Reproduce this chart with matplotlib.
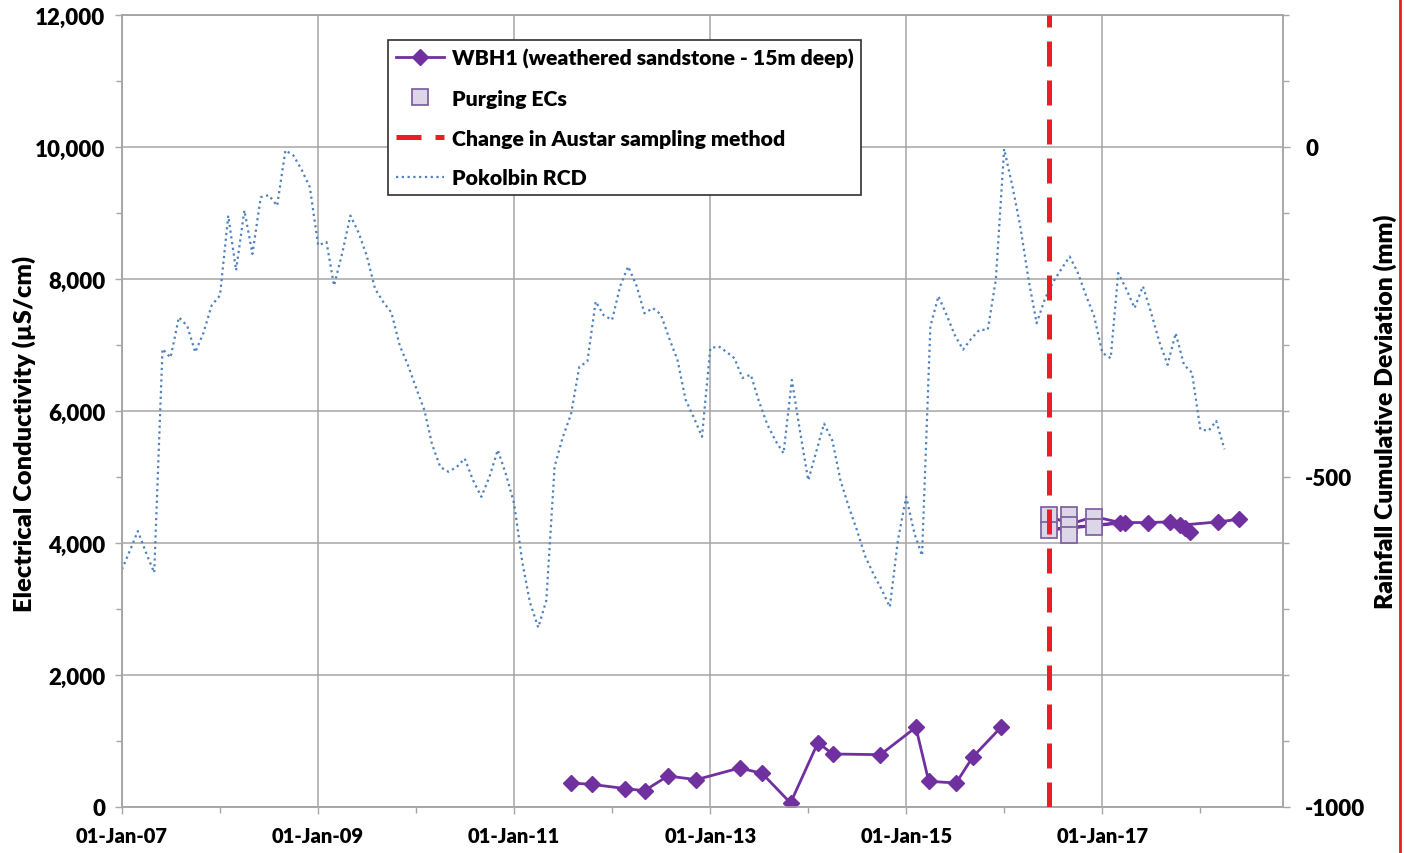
import matplotlib
matplotlib.use('Agg')
import matplotlib.pyplot as plt
from matplotlib.ticker import MultipleLocator, FuncFormatter
from matplotlib.lines import Line2D
import pandas as pd
import numpy as np

plt.rcParams['font.family'] = ['Lato', 'DejaVu Sans']
plt.rcParams['font.weight'] = 'heavy'
plt.rcParams['axes.unicode_minus'] = False

# Pokolbin rainfall cumulative deviation (mm), monthly from Jan 2007
rcd_start = '2007-01-01'
rcd_mm = [-640, -610, -582, -615, -645, -306, -319, -258, -271, -311, -281, -240,
          -225, -104, -187, -96, -162, -76, -73, -89, -5, -13, -35, -61,
          -149, -144, -210, -160, -104, -130, -165, -215, -235, -251, -301, -330,
          -365, -399, -450, -485, -492, -485, -472, -505, -530, -500, -459, -495,
          -540, -630, -690, -728, -687, -484, -440, -405, -333, -325, -234, -255,
          -262, -210, -181, -210, -252, -244, -254, -290, -323, -383, -410, -439,
          -305, -302, -310, -320, -350, -345, -385, -420, -445, -464, -353, -430,
          -505, -460, -419, -445, -505, -545, -580, -620, -647, -670, -697, -596,
          -530, -586, -619, -272, -226, -255, -285, -307, -290, -277, -277, -201,
          -3, -60, -120, -201, -267, -230, -205, -185, -166, -190, -225, -256,
          -312, -320, -191, -216, -244, -211, -250, -295, -330, -282, -330, -342,
          -428, -430, -415, -458]

# WBH1 EC (uS/cm) - None marks the gap in the series
wbh1_dates = ['2011-07-31', '2011-10-19', '2012-02-20', '2012-05-01', '2012-07-27',
              '2012-11-10', '2013-04-20', '2013-07-13', '2013-10-27', '2014-02-06',
              '2014-04-02', '2014-09-27', '2015-02-06', '2015-03-26', '2015-07-06',
              '2015-09-06', '2015-12-20', '2016-03-01',
              '2016-06-17', '2016-08-29', '2016-12-01', '2017-03-08', '2016-06-17',
              '2016-12-01', '2017-03-26', '2017-06-20', '2017-09-09', '2017-11-25',
              '2017-11-06', '2017-10-19', '2018-03-09', '2018-05-26']
wbh1_ec = [364, 343, 278, 247, 470, 414, 591, 510, 61, 975, 803, 793, 1207, 389,
           364, 758, 1207, None,
           4420, 4280, 4400, 4310, 4200, 4260, 4310, 4310, 4320, 4170, 4230, 4270,
           4320, 4360]

purge_dates = ['2016-06-17', '2016-06-17', '2016-08-29', '2016-08-29', '2016-08-29',
               '2016-12-01', '2016-12-01']
purge_ec = [4429, 4202, 4429, 4277, 4126, 4398, 4247]

change_date = '2016-06-17'

x_major = ['2007-01-01', '2009-01-01', '2011-01-01', '2013-01-01', '2015-01-01', '2017-01-01']
x_minor = ['2008-01-01', '2010-01-01', '2012-01-01', '2014-01-01', '2016-01-01', '2018-01-01']
x_labels = ['01-Jan-07', '01-Jan-09', '01-Jan-11', '01-Jan-13', '01-Jan-15', '01-Jan-17']

rcd_x = pd.date_range(rcd_start, periods=len(rcd_mm), freq='MS')
wbh1_x = pd.to_datetime(wbh1_dates)
wbh1_y = np.array([np.nan if v is None else v for v in wbh1_ec], dtype=float)
purge_x = pd.to_datetime(purge_dates)

fig = plt.figure(figsize=(14.06, 8.54), dpi=100)
ax = fig.add_axes([122 / 1406, 1 - 808 / 854, (1283 - 122) / 1406, (808 - 16) / 854])
ax2 = ax.twinx()

purple = '#7030A0'
grid_c = '#A6A6A6'

ax.plot(wbh1_x, wbh1_y, color=purple, lw=2.0, marker='D', ms=8,
        label='WBH1 (weathered sandstone - 15m deep)', zorder=3)
ax.plot(purge_x, purge_ec, ls='none', marker='s', ms=12, mfc='#DDD5E8',
        mec='#8064A2', mew=1.3, label='Purging ECs', zorder=4)

ax2.plot(rcd_x, rcd_mm, color='#4F81BD', lw=1.6, ls=(0, (1, 1.6)),
         label='Pokolbin RCD', zorder=2)
ax2.axvline(pd.Timestamp(change_date), color='#EE1C25', lw=3.6,
            ls=(0, (5, 2.8)), label='Change in Austar sampling method', zorder=3)

ax.set_xlim(pd.Timestamp('2007-01-01'), pd.Timestamp('2018-11-05'))
ax.set_ylim(0, 12000)
ax2.set_ylim(-1000, 200)

ax.set_xticks(pd.to_datetime(x_major))
ax.set_xticklabels(x_labels)
ax.set_xticks(pd.to_datetime(x_minor), minor=True)
ax.yaxis.set_major_locator(MultipleLocator(2000))
ax.yaxis.set_minor_locator(MultipleLocator(1000))
ax.yaxis.set_major_formatter(FuncFormatter(lambda v, p: f'{int(v):,}'))
ax2.yaxis.set_minor_locator(MultipleLocator(100))
ax2.set_yticks([-1000, -500, 0])

ax.grid(True, which='major', color=grid_c, lw=1.1)
ax.set_axisbelow(True)

for a in (ax, ax2):
    for s in a.spines.values():
        s.set_color(grid_c)
        s.set_linewidth(1.1)
    a.tick_params(which='major', length=5, width=1, color=grid_c, labelsize=16)
    a.tick_params(which='minor', length=4, width=1, color=grid_c)
ax.tick_params(axis='x', pad=9, labelsize=14.5)
ax.tick_params(axis='y', pad=7)
ax2.tick_params(axis='y', pad=11)

ax.set_ylabel('Electrical Conductivity (µS/cm)', fontsize=18.3, fontweight='heavy')
ax.yaxis.set_label_coords(-0.074, 0.472)
ax2.set_ylabel('Rainfall Cumulative Deviation (mm)', fontsize=17.8, fontweight='heavy')
ax2.yaxis.set_label_coords(1.0775, 0.5)

h1, l1 = ax.get_legend_handles_labels()
h2, l2 = ax2.get_legend_handles_labels()
handles = [h1[0], h1[1], h2[1], h2[0]]
labels = [l1[0], l1[1], l2[1], l2[0]]
leg = ax2.legend(handles, labels, loc='upper left', bbox_to_anchor=(0.2237, 0.976),
                 fontsize=15.3, fancybox=False, framealpha=1, edgecolor='#303030',
                 handlelength=2.3, labelspacing=0.98, borderpad=0.35, handletextpad=0.35,
                 borderaxespad=0.3)
leg.get_frame().set_linewidth(1.2)

fig.add_artist(Line2D([0.9955, 0.9955], [0, 1], color='#EE1C25', lw=2))

fig.savefig('out.png', dpi=100)
